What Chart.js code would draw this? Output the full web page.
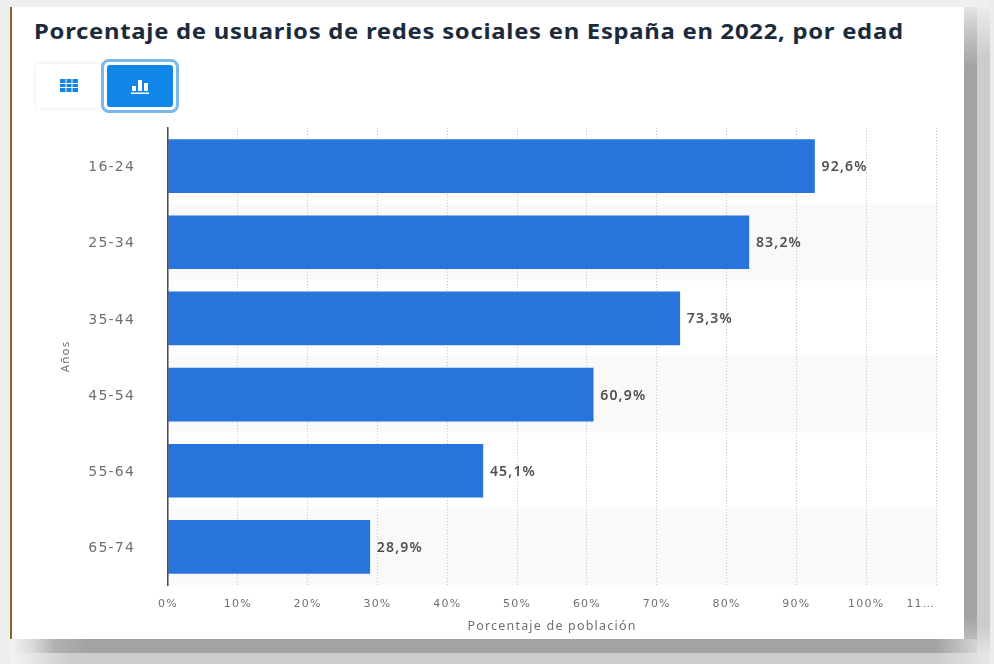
<!DOCTYPE html>
<html lang="es">
<head>
<meta charset="utf-8">
<title>Usuarios de redes sociales en España</title>
<script src="https://cdn.jsdelivr.net/npm/chart.js@4/dist/chart.umd.min.js"></script>
<style>
html, body { margin: 0; padding: 0; width: 994px; height: 664px; overflow: hidden; background: #efefef; }
body { position: relative; font-family: "Noto Sans", sans-serif; }
.strip { position: absolute; }
#shadowRight1 { left: 964px; top: 7px; width: 13px; height: 632px; background: linear-gradient(to bottom, #e4e4e4 0, #c4c4c4 25px, #a3a3a3 60px, #a3a3a3 610px, #bbb 632px); }
#shadowRight2 { left: 977px; top: 7px; width: 13px; height: 646px; background: linear-gradient(to bottom, #ececec 0, #cccccc 50px, #cccccc 620px, #e4e4e4 646px); }
#shadowRight3 { left: 990px; top: 0; width: 4px; height: 664px; background: #ececec; }
#shadowBottom1 { left: 11px; top: 639px; width: 966px; height: 14px; background: linear-gradient(to right, #f2f2f2 0, #dcdcdc 20px, #b0b0b0 45px, #a3a3a3 75px, #a3a3a3 925px, #bbb 945px, #d4d4d4 966px); }
#shadowBottom2 { left: 11px; top: 653px; width: 979px; height: 11px; background: linear-gradient(to right, #f4f4f4 0, #e0e0e0 30px, #cccccc 60px, #cccccc 925px, #dcdcdc 955px, #e8e8e8 979px); }
#panel { position: absolute; left: 11px; top: 7px; width: 953px; height: 632px; background: #fff; }
#edge { position: absolute; left: 10px; top: 7px; width: 1.5px; height: 632px; background: #86662c; }
h1 { position: absolute; left: 34px; top: 16px; margin: 0; font-size: 20.5px; line-height: 30px; font-weight: 700; letter-spacing: 0.62px; color: #1c2b3c; white-space: nowrap; transform: scaleX(1.163); transform-origin: left center; }
.btn { position: absolute; box-sizing: border-box; }
#btnTable { left: 36px; top: 64px; width: 68px; height: 44px; background: #fff; border-radius: 4px; box-shadow: 0 0 4px rgba(0,0,0,.1); }
#btnRing { left: 101px; top: 59px; width: 78px; height: 54px; background: #fff; border: 3px solid #7ab8ea; border-radius: 8px; }
#btnChart { left: 107px; top: 65px; width: 66px; height: 42px; background: #0f86e8; border-radius: 3px; }
.btn svg { position: absolute; }
#wrap { position: absolute; left: 11px; top: 120px; width: 953px; height: 519px; }
</style>
</head>
<body>
<div class="strip" id="shadowRight3"></div>
<div class="strip" id="shadowRight2"></div>
<div class="strip" id="shadowRight1"></div>
<div class="strip" id="shadowBottom2"></div>
<div class="strip" id="shadowBottom1"></div>
<div id="panel"></div>
<div id="edge"></div>
<h1>Porcentaje de usuarios de redes sociales en España en 2022, por edad</h1>
<div class="btn" id="btnTable">
  <svg style="left:24px;top:15px" width="18" height="13" viewBox="0 0 18 13">
    <path fill="#0f86e8" d="M0 0h18v13H0z"/>
    <path stroke="#fff" stroke-width="1" d="M6 0v13M12 0v13M0 4.5h18M0 8.5h18"/>
  </svg>
</div>
<div class="btn" id="btnRing"></div>
<div class="btn" id="btnChart">
  <svg style="left:24px;top:13px" width="18" height="16" viewBox="0 0 18 16">
    <path fill="#fff" d="M1 8h4v5H1zM7 2h4v11H7zM13 5h4v8h-4zM0 14.5h18V16H0z"/>
  </svg>
</div>
<div id="wrap"><canvas id="usersChart" width="953" height="519"></canvas></div>

<script>
// Age groups and share of the population using social networks
const ageGroups = ['16-24', '25-34', '35-44', '45-54', '55-64', '65-74'];
const userShare = [92.6, 83.2, 73.3, 60.9, 45.1, 28.9];
const tickLabels = ['0%', '10%', '20%', '30%', '40%', '50%', '60%', '70%', '80%', '90%', '100%', ''];
const lastTickLabel = '11…';

const textColor = '#707070';
const labelFont = '"Noto Sans", sans-serif';
const tickFont = '"DejaVu Sans", sans-serif';

// Sets the tracking used by every text drawn on the canvas
const trackingPlugin = {
    id: 'tracking',
    beforeUpdate(chart) {
        chart.ctx.letterSpacing = '1.2px';
    },
    beforeDraw(chart) {
        chart.ctx.letterSpacing = '1.2px';
    }
};

// Alternate row backgrounds, painted under the grid and the bars
const rowBandsPlugin = {
    id: 'rowBands',
    beforeDraw(chart) {
        const { ctx, chartArea, scales } = chart;
        const rowHeight = scales.y.height / ageGroups.length;
        ctx.save();
        ctx.fillStyle = '#f9f9f9';
        ageGroups.forEach((group, i) => {
            if (i % 2 === 1) {
                ctx.fillRect(chartArea.left, scales.y.getPixelForValue(i) - rowHeight / 2, chartArea.width + 1, rowHeight);
            }
        });
        ctx.restore();
    }
};

// Value labels at the end of the bars, plus the shortened last tick label
const valueLabelsPlugin = {
    id: 'valueLabels',
    afterDatasetsDraw(chart) {
        const { ctx, chartArea, scales } = chart;
        ctx.save();
        ctx.font = '600 14px ' + labelFont;
        ctx.fillStyle = '#4f4f4f';
        ctx.textAlign = 'left';
        ctx.textBaseline = 'middle';
        userShare.forEach((value, i) => {
            const text = value.toFixed(1).replace('.', ',') + '%';
            ctx.fillText(text, scales.x.getPixelForValue(value) + 7, scales.y.getPixelForValue(i) + 1);
        });

        ctx.font = '11px ' + tickFont;
        ctx.fillStyle = textColor;
        ctx.textAlign = 'right';
        ctx.fillText(lastTickLabel, scales.x.getPixelForValue(110) - 1, chartArea.bottom + 19);
        ctx.restore();
    }
};

function initUsersChart() {
    const ctx = document.getElementById('usersChart').getContext('2d');
    return new Chart(ctx, {
        type: 'bar',
        data: {
            labels: ageGroups,
            datasets: [{
                data: userShare,
                backgroundColor: '#2775dc',
                barThickness: 53
            }]
        },
        plugins: [trackingPlugin, rowBandsPlugin, valueLabelsPlugin],
        options: {
            indexAxis: 'y',
            responsive: false,
            animation: false,
            layout: { padding: { top: 8, right: 28, left: 48, bottom: 5 } },
            plugins: {
                legend: { display: false },
                tooltip: { enabled: false }
            },
            scales: {
                x: {
                    min: 0,
                    max: 110,
                    afterFit(scale) { scale.height = 49; },
                    afterBuildTicks(scale) {
                        scale.ticks = tickLabels.map((label, i) => ({ value: i * 10 }));
                    },
                    grid: {
                        color: '#c4c4c4',
                        lineWidth: 1,
                        drawTicks: false
                    },
                    border: { display: false, dash: [1, 2] },
                    ticks: {
                        autoSkip: false,
                        maxRotation: 0,
                        padding: 13,
                        color: textColor,
                        font: { family: tickFont, size: 11 },
                        callback: (value, i) => tickLabels[i]
                    },
                    title: {
                        display: true,
                        text: 'Porcentaje de población',
                        color: textColor,
                        font: { family: labelFont, size: 12.5 },
                        padding: { top: 0, bottom: 0 }
                    }
                },
                y: {
                    // tick padding would otherwise also be reserved above and below the axis
                    afterFit(scale) {
                        scale.width = 109;
                        scale.paddingTop = 0;
                        scale.paddingBottom = 0;
                    },
                    grid: { display: false, drawTicks: false },
                    border: { color: '#4f4f4f', width: 1.5, z: 1 },
                    ticks: {
                        padding: 33,
                        labelOffset: 1.5,
                        color: textColor,
                        font: { family: tickFont, size: 14 }
                    },
                    title: {
                        display: true,
                        text: 'Años',
                        color: textColor,
                        font: { family: labelFont, size: 11.5 },
                        padding: { top: 0, bottom: 0 }
                    }
                }
            }
        }
    });
}

document.addEventListener('DOMContentLoaded', initUsersChart);
</script>
</body>
</html>
